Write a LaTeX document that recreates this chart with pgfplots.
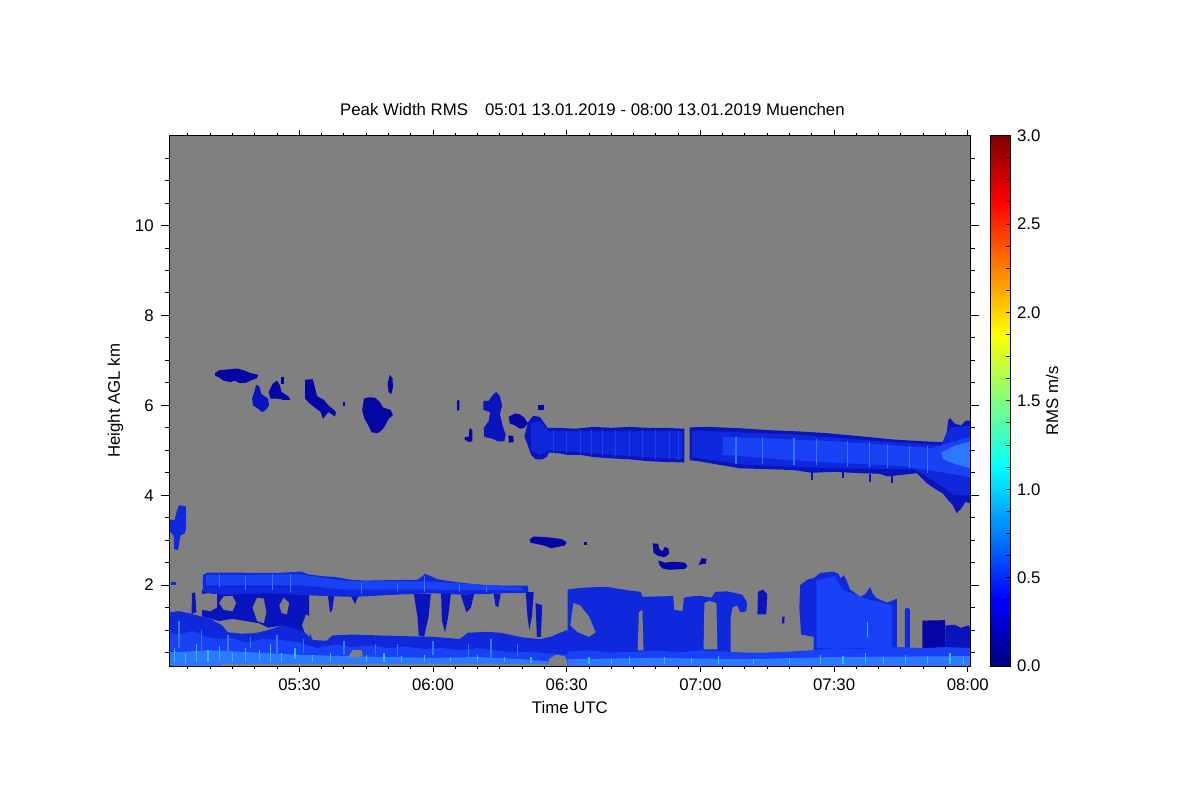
\documentclass[border=0pt]{standalone}
\usepackage{pgfplots}
\pgfplotsset{compat=1.18}
\usepackage{fontspec}
\setmainfont{Liberation Sans}
\definecolor{bg}{RGB}{128,128,128}
\definecolor{cNavy}{RGB}{5,5,165}
\definecolor{cDark}{RGB}{10,20,190}
\definecolor{cMid}{RGB}{15,40,220}
\definecolor{cBlue}{RGB}{25,65,245}
\definecolor{cLight}{RGB}{45,120,255}
\definecolor{cCyan}{RGB}{30,200,255}
\begin{document}
\begin{tikzpicture}[font=\fontsize{8.4}{10}\selectfont]
\path[fill=white,use as bounding box] (0,0) rectangle (600pt,400pt);
\begin{axis}[
  at={(84.85pt,67pt)}, anchor=south west, scale only axis,
  width=400.15pt, height=265.15pt,
  xmin=0.9, xmax=180.5, ymin=0.2, ymax=12,
  axis background/.style={fill=bg},
  axis on top,
  xtick=\empty,
  ytick={2,4,6,8,10}, yticklabels={2,4,6,8,10},
  minor ytick={0.5,1,1.5,2.5,3,3.5,4.5,5,5.5,6.5,7,7.5,8.5,9,9.5,10.5,11,11.5},
  tick align=outside, ytick pos=both, yticklabel pos=left,
  major tick length=4.5pt, minor tick length=2.25pt,
  axis line style={line width=0.5pt},
  every tick/.style={black,line width=0.5pt},
  /pgf/number format/assume math mode=true,
  ylabel={Height AGL km},
  every axis y label/.style={at={(axis description cs:-0.0621,0.5)}, rotate=90, anchor=base},
  title={Peak Width RMS\hspace{8.5pt}05:01 13.01.2019 - 08:00 13.01.2019 Muenchen},
  every axis title/.style={at={(axis description cs:0.5,1)}, anchor=base, yshift=10.35pt, xshift=11.3pt},
  colormap/jet, point meta min=0, point meta max=3,
  colorbar,
  colorbar style={
    at={(parent axis.north east)}, anchor=north west, xshift=1.47pt,
    width=10pt, scale only axis,
    ytick={0,0.5,...,3},
    minor ytick={0.125,0.25,0.375,0.625,0.75,0.875,1.125,1.25,1.375,1.625,1.75,1.875,2.125,2.25,2.375,2.625,2.75,2.875},
    ytick pos=right, yticklabel pos=right, tick align=inside,
    major tick length=2pt, minor tick length=2pt,
    yticklabel style={/pgf/number format/fixed,/pgf/number format/precision=1,/pgf/number format/fixed zerofill},
    /pgf/number format/assume math mode=true,
    ylabel={RMS m/s},
    every axis y label/.style={at={(axis description cs:3.4,0.5)}, rotate=90, anchor=base},
  },
]
% ---- lower-left region
\addplot[fill=cMid,draw=none] coordinates {(0.5,0.1) (0.5,1.39) (3,1.42) (5.8,1.36) (8,1.3) (10,1.25) (12.7,1.1) (14,0.95) (17,0.92) (20,0.93) (23,1.0) (26,1.1) (28,1.05) (30.4,1.0) (32.2,0.95) (33,0.78) (36,0.76) (37.5,0.88) (42,0.9) (48,0.88) (55,0.86) (60,0.85) (66,0.8) (67.8,0.94) (72,0.96) (75.2,0.94) (78,0.88) (80.4,0.83) (84,0.8) (86.4,0.85) (88,0.92) (90.2,1.0) (90.6,0.1)} -- cycle;
\addplot[fill=cBlue,draw=none] coordinates {(0.5,0.1) (0.5,0.95) (3,0.9) (6,0.98) (9,0.85) (12,0.8) (15,0.82) (18,0.72) (22,0.8) (26,0.78) (30,0.72) (34,0.6) (38,0.68) (42,0.62) (46,0.66) (50,0.6) (54,0.63) (58,0.58) (62,0.6) (66,0.55) (70,0.6) (74,0.55) (78,0.5) (82,0.52) (86,0.48) (90.6,0.45) (90.6,0.1)} -- cycle;
\addplot[fill=cLight,draw=none] coordinates {(0.5,0.2) (0.5,0.5) (10,0.55) (20,0.5) (30,0.45) (40,0.42) (50,0.4) (60,0.38) (70,0.4) (80,0.35) (86,0.3) (86,0.2)} -- cycle;
% connector and holes
\addplot[fill=cDark,draw=none] coordinates {(8.2,1.3) (8.2,1.9) (32.2,1.9) (32.2,0.9) (30,1.0) (26,1.1) (23,1.05) (21,1.15) (18,1.2) (15,1.25) (12,1.2)} -- cycle;
\addplot[fill=bg,draw=none] coordinates {(8.2,1.45) (8.2,1.8) (9.5,1.82) (11.5,1.8) (11.5,1.5) (10,1.42)} -- cycle;
\addplot[fill=bg,draw=none] coordinates {(12,1.6) (13,1.75) (15,1.76) (15.8,1.6) (15,1.42) (13,1.45)} -- cycle;
\addplot[fill=bg,draw=none] coordinates {(19.5,1.5) (20.5,1.72) (22,1.7) (22.6,1.4) (22,1.15) (20.5,1.2)} -- cycle;
\addplot[fill=bg,draw=none] coordinates {(25.5,1.55) (26.5,1.72) (27.7,1.6) (27.2,1.35) (26,1.38)} -- cycle;
\addplot[fill=bg,draw=none] coordinates {(30.6,1.1) (31.5,1.35) (32.3,1.3) (32.3,0.85) (31.2,0.95)} -- cycle;
% upper layer near 2 km
\addplot[fill=cMid,draw=none] coordinates {(8.3,2.05) (8.4,2.23) (9.5,2.28) (15,2.28) (20,2.27) (25,2.27) (30.4,2.3) (32,2.24) (35,2.2) (38,2.18) (41.6,2.12) (45,2.1) (50,2.11) (56.6,2.12) (58.2,2.25) (59.5,2.2) (61,2.13) (65.6,2.06) (71.4,2.0) (76,1.99) (81.3,1.99) (81.4,1.83) (76,1.82) (71,1.8) (65.6,1.79) (60,1.82) (55,1.8) (50,1.78) (45,1.75) (41.6,1.74) (35,1.76) (30,1.78) (23,1.82) (18,1.8) (13,1.78) (8.4,1.85)} -- cycle;
\addplot[fill=cBlue,draw=none] coordinates {(9,2.22) (30,2.24) (40,2.1) (60,2.08) (80,1.95) (80,1.88) (60,1.9) (40,1.9) (30,2.0) (9,2.0)} -- cycle;
\addplot[fill=cMid,draw=none] coordinates {(1.3,2.0) (1.3,2.07) (2.4,2.07) (2.4,2.0)} -- cycle;
% hanging streaks
\addplot[fill=cDark,draw=none] coordinates {(5.8,1.36) (5.9,1.82) (6.6,1.84) (6.9,1.4)} -- cycle;
\addplot[fill=cDark,draw=none] coordinates {(36.4,1.76) (37.8,1.76) (37.4,1.45) (36.9,1.39)} -- cycle;
\addplot[fill=cDark,draw=none] coordinates {(41.6,1.75) (43.2,1.75) (42.5,1.58)} -- cycle;
\addplot[fill=cDark,draw=none] coordinates {(55.7,1.8) (59.5,1.8) (59,1.3) (58,0.85) (56.8,0.88) (56.5,1.3)} -- cycle;
\addplot[fill=cDark,draw=none] coordinates {(61.8,1.82) (64,1.8) (63.4,1.3) (62.7,0.95) (62,1.2)} -- cycle;
\addplot[fill=cDark,draw=none] coordinates {(66.2,1.79) (69.2,1.8) (68.5,1.5) (67.5,1.39)} -- cycle;
\addplot[fill=cDark,draw=none] coordinates {(73.6,1.81) (75.2,1.81) (74.6,1.5) (74,1.55)} -- cycle;
\addplot[fill=cDark,draw=none] coordinates {(80.8,1.85) (82.6,1.84) (82.2,1.3) (81.6,1.0) (81.2,1.3)} -- cycle;
\addplot[fill=cDark,draw=none] coordinates {(83,1.6) (84.5,1.55) (84.2,0.85) (83.3,0.85)} -- cycle;
% gray bottom patches
\addplot[fill=bg,draw=none] coordinates {(41,0.41) (42,0.56) (44,0.55) (44.2,0.42) (42.5,0.38)} -- cycle;
\addplot[fill=bg,draw=none] coordinates {(12.7,0.1) (12.7,0.24) (86,0.24) (86,0.1)} -- cycle;
\addplot[fill=bg,draw=none] coordinates {(86,0.1) (86,0.35) (87.5,0.45) (89.5,0.42) (90.2,0.3) (90.2,0.1)} -- cycle;
% ---- 06:30 - 07:10 region
\addplot[fill=cMid,draw=none] coordinates {(90.2,0.3) (90.2,1.9) (91.5,1.92) (95,1.95) (99.2,1.96) (101.4,1.92) (104,1.88) (106.6,1.85) (107,1.74) (112,1.75) (113.9,1.76) (114.1,1.45) (116,1.42) (116.3,1.72) (118,1.75) (120,1.76) (122.5,1.72) (123.3,1.85) (126,1.86) (128,1.82) (129.5,1.78) (130.5,1.6) (130.3,1.42) (129,1.39) (128.2,1.55) (127.2,1.5) (126.8,1.3) (126.8,0.3)} -- cycle;
\addplot[fill=bg,draw=none] coordinates {(90.8,1.1) (91.5,1.6) (93,1.55) (95,1.3) (96.5,0.95) (95,0.85) (92.5,0.95)} -- cycle;
\addplot[fill=bg,draw=none] coordinates {(105.9,0.55) (106.2,1.4) (107,1.45) (107.2,0.55)} -- cycle;
\addplot[fill=bg,draw=none] coordinates {(120.7,0.57) (120.9,1.6) (122,1.65) (123.6,1.6) (123.8,0.57)} -- cycle;
\addplot[fill=cDark,draw=none] coordinates {(132.8,1.35) (132.9,1.85) (134,1.9) (135,1.8) (134.8,1.35)} -- cycle;
\addplot[fill=cDark,draw=none] coordinates {(138.3,1.15) (138.4,1.3) (138.9,1.3) (138.8,1.15)} -- cycle;
% ---- 07:20 - 07:45 region
\addplot[fill=cMid,draw=none] coordinates {(145.4,0.3) (145.4,0.85) (142.6,0.9) (142.2,1.5) (142.4,2.0) (144,2.12) (145.5,2.16) (146.9,2.27) (149.8,2.3) (151,2.25) (151.5,2.15) (152.2,2.22) (152.8,2.1) (153.6,1.9) (155.9,1.74) (157,1.8) (158.1,1.96) (158.7,1.8) (159.7,1.7) (161.9,1.61) (163,1.65) (164.1,1.7) (164.1,0.3)} -- cycle;
\addplot[fill=cBlue,draw=none] coordinates {(146,2.1) (150,2.2) (152,1.9) (157,1.7) (163,1.55) (163,0.6) (146,0.6)} -- cycle;
\addplot[fill=cMid,draw=none] coordinates {(165.9,0.3) (165.9,1.47) (166.5,1.5) (167,1.45) (167,0.3)} -- cycle;
\addplot[fill=cNavy,draw=none] coordinates {(169.8,0.3) (169.8,1.21) (174.9,1.22) (175.1,0.3)} -- cycle;
\addplot[fill=cDark,draw=none] coordinates {(175,0.3) (175,1.1) (177,1.12) (178.5,1.05) (180,1.1) (181,1.08) (181,0.3)} -- cycle;
% ground layer
\addplot[fill=cBlue,draw=none] coordinates {(90.2,0.1) (90.2,0.52) (95,0.55) (100,0.5) (106,0.52) (110,0.55) (115,0.5) (120,0.55) (125,0.52) (130,0.5) (135,0.5) (140,0.52) (145,0.55) (150,0.6) (155,0.58) (160,0.6) (165,0.62) (170,0.6) (175,0.62) (181,0.6) (181,0.1)} -- cycle;
\addplot[fill=cLight,draw=none] coordinates {(90.2,0.2) (90.2,0.35) (110,0.38) (130,0.35) (150,0.4) (181,0.42) (181,0.2)} -- cycle;
% speckles
\addplot[cLight,line width=0.6pt,unbounded coords=jump] coordinates {(3,0.6) (3,1.2) (3,nan) (8,0.5) (8,1.0) (8,nan) (14,0.5) (14,0.9) (14,nan) (19,0.6) (19,0.85) (19,nan) (25,0.5) (25,0.9) (25,nan) (31,0.5) (31,0.8) (31,nan) (40,0.45) (40,0.75) (40,nan) (47,0.45) (47,0.7) (47,nan) (52,0.4) (52,0.7) (52,nan) (60,0.45) (60,0.75) (60,nan) (68,0.4) (68,0.7) (68,nan) (73,0.4) (73,0.8) (73,nan) (79,0.4) (79,0.7) (79,nan) (12,1.95) (12,2.25) (12,nan) (18,1.9) (18,2.2) (18,nan) (24,1.9) (24,2.25) (24,nan) (28,1.85) (28,2.25) (28,nan) (44,1.8) (44,2.05) (44,nan) (52,1.85) (52,2.05) (52,nan) (58,1.85) (58,2.2) (58,nan) (66,1.85) (66,2.02) (66,nan) (72,1.85) (72,1.97)};
\addplot[cCyan,line width=0.6pt,unbounded coords=jump] coordinates {(2,0.3) (2,0.6) (2,nan) (4.5,0.25) (4.5,0.5) (4.5,nan) (7,0.3) (7,0.7) (7,nan) (9.5,0.3) (9.5,0.55) (9.5,nan) (12,0.35) (12,0.65) (12,nan) (15,0.3) (15,0.5) (15,nan) (18,0.3) (18,0.6) (18,nan) (21,0.35) (21,0.55) (21,nan) (23.5,0.3) (23.5,0.7) (23.5,nan) (26,0.3) (26,0.5) (26,nan) (29,0.35) (29,0.6) (29,nan) (33,0.3) (33,0.45) (33,nan) (37,0.3) (37,0.5) (37,nan) (45,0.3) (45,0.45) (45,nan) (49,0.3) (49,0.5) (49,nan) (53,0.28) (53,0.42) (53,nan) (58,0.3) (58,0.45) (58,nan) (64,0.28) (64,0.4) (64,nan) (70,0.28) (70,0.45) (70,nan) (76,0.28) (76,0.4) (76,nan) (82,0.27) (82,0.4) (82,nan) (95,0.25) (95,0.4) (95,nan) (100,0.25) (100,0.35) (100,nan) (104,0.25) (104,0.42) (104,nan) (112,0.25) (112,0.4) (112,nan) (118,0.25) (118,0.38) (118,nan) (124,0.25) (124,0.42) (124,nan) (132,0.25) (132,0.35) (132,nan) (140,0.25) (140,0.38) (140,nan) (147,0.25) (147,0.45) (147,nan) (152,0.25) (152,0.42) (152,nan) (157,0.25) (157,0.48) (157,nan) (161,0.25) (161,0.4) (161,nan) (166,0.25) (166,0.45) (166,nan) (171,0.25) (171,0.42) (171,nan) (176,0.25) (176,0.48) (176,nan) (179,0.25) (179,0.4) (179,nan) (157.5,0.85) (157.5,1.17)};
% ---- low isolated patches 2.3 - 3.8 km
\addplot[fill=cMid,draw=none] coordinates {(3.0,3.78) (4.5,3.75) (4.6,3.3) (4.3,3.15) (3.3,3.1) (2.8,2.78) (1.9,2.8) (1.8,3.1) (0.9,3.2) (0.9,3.45) (2.0,3.45) (2.5,3.65)} -- cycle;
\addplot[fill=cNavy,draw=none] coordinates {(81.7,3.02) (82.5,3.08) (85,3.07) (87,3.05) (89,3.02) (90,2.95) (89.5,2.88) (88,2.85) (86.5,2.82) (85,2.88) (83,2.92) (81.8,2.95)} -- cycle;
\addplot[fill=cNavy,draw=none] coordinates {(93.8,2.89) (93.8,2.96) (94.5,2.96) (94.5,2.89)} -- cycle;
\addplot[fill=cNavy,draw=none] coordinates {(109.3,2.93) (110.5,2.92) (110.8,2.8) (111.5,2.75) (112.0,2.85) (112.8,2.82) (113.0,2.7) (112,2.62) (110.5,2.65) (109.5,2.72)} -- cycle;
\addplot[fill=cNavy,draw=none] coordinates {(110.6,2.55) (112,2.5) (114,2.52) (116.5,2.5) (117.1,2.42) (116.5,2.36) (113,2.34) (111.5,2.37) (110.8,2.45)} -- cycle;
\addplot[fill=cNavy,draw=none] coordinates {(119.6,2.45) (120.3,2.6) (121.4,2.58) (121.2,2.48)} -- cycle;
% ---- upper isolated clouds 5.2 - 6.8 km
\addplot[fill=cNavy,draw=none] coordinates {(11.1,6.72) (12,6.78) (14,6.8) (16,6.82) (17.5,6.78) (19,6.72) (20.7,6.68) (20.5,6.6) (19,6.55) (18,6.5) (16.5,6.5) (15.5,6.55) (14.5,6.52) (13,6.55) (12,6.62) (11.1,6.66)} -- cycle;
\addplot[fill=cDark,draw=none] coordinates {(20.3,6.46) (21.0,6.42) (21.5,6.25) (23.0,6.15) (23.2,6.0) (22.5,5.9) (21.6,5.85) (20.8,5.92) (19.6,6.0) (19.4,6.15) (19.9,6.3)} -- cycle;
\addplot[fill=cNavy,draw=none] coordinates {(23.1,6.3) (24,6.48) (25,6.55) (25.6,6.45) (26,6.3) (27.5,6.2) (28,6.12) (26.5,6.12) (25,6.15) (23.5,6.15)} -- cycle;
\addplot[fill=cNavy,draw=none] coordinates {(25.9,6.48) (25.9,6.62) (26.6,6.62) (26.6,6.48)} -- cycle;
\addplot[fill=cNavy,draw=none] coordinates {(31.3,6.57) (33.0,6.58) (33.5,6.4) (34,6.2) (35.5,6.12) (36.5,6.0) (37.5,5.92) (38.2,5.85) (38.0,5.75) (36.5,5.85) (35.3,5.7) (34.8,5.85) (33.5,5.95) (32.2,6.05) (31.3,6.15)} -- cycle;
\addplot[fill=cNavy,draw=none] coordinates {(39.7,5.98) (40.3,5.98) (40.3,6.08) (39.7,6.08)} -- cycle;
\addplot[fill=cNavy,draw=none] coordinates {(44.5,6.15) (45.5,6.18) (47.0,6.17) (48.0,6.08) (48.8,5.95) (50.5,5.9) (51.0,5.78) (50.0,5.7) (49.3,5.55) (48.5,5.45) (47.6,5.38) (46.2,5.40) (45.5,5.55) (44.6,5.7) (44.1,5.9)} -- cycle;
\addplot[fill=cNavy,draw=none] coordinates {(50.3,6.68) (50.9,6.6) (51.0,6.4) (50.6,6.25) (50.0,6.3) (49.8,6.5)} -- cycle;
\addplot[fill=cNavy,draw=none] coordinates {(65.4,6.1) (65.9,6.12) (65.9,5.9) (65.4,5.88)} -- cycle;
\addplot[fill=cNavy,draw=none] coordinates {(68.2,5.5) (68.8,5.45) (68.8,5.2) (68.0,5.18) (67.0,5.25) (67.2,5.3) (68.0,5.3)} -- cycle;
\addplot[fill=cDark,draw=none] coordinates {(73.3,6.22) (74.2,6.3) (75.0,6.2) (75.5,6.0) (75.0,5.8) (75.6,5.55) (76.3,5.35) (76.0,5.2) (74.5,5.2) (73.5,5.25) (71.5,5.3) (71.4,5.5) (72.5,5.65) (72.8,5.85) (71.3,5.9) (71.3,6.1) (72.5,6.1)} -- cycle;
\addplot[fill=cNavy,draw=none] coordinates {(76.9,5.33) (78.0,5.32) (78.1,5.18) (77.0,5.17)} -- cycle;
\addplot[fill=cNavy,draw=none] coordinates {(77.0,5.75) (78.5,5.82) (79.5,5.8) (80.5,5.72) (81.3,5.6) (80.5,5.5) (79.5,5.48) (78.5,5.55) (77.2,5.6)} -- cycle;
\addplot[fill=cNavy,draw=none] coordinates {(83.5,5.9) (84.8,5.9) (84.8,6.0) (83.5,6.0)} -- cycle;
% ---- main band 4 - 5.7 km
\addplot[fill=cDark,draw=none] coordinates {(80.5,5.3) (81.3,5.62) (82.5,5.77) (84,5.74) (85,5.6) (85.7,5.5) (88,5.5) (92,5.48) (96,5.52) (100,5.5) (104,5.52) (108,5.5) (112,5.5) (116.4,5.48) (116.4,4.73) (112,4.74) (108,4.76) (104,4.8) (100,4.82) (96,4.85) (93,4.9) (90,4.9) (88.6,4.93) (86,4.95) (85.5,4.85) (84.5,4.8) (83,4.8) (82,4.9) (81.3,5.1)} -- cycle;
\addplot[fill=cDark,draw=none] coordinates {(117.6,5.51) (122,5.52) (128.9,5.49) (135,5.45) (142,5.42) (148.5,5.38) (155,5.32) (163.3,5.24) (170,5.2) (174.4,5.18) (175.3,5.4) (175.6,5.66) (176,5.72) (177,5.6) (178.5,5.55) (179.5,5.66) (180.6,5.66) (180.6,3.82) (179.5,3.85) (178.5,3.7) (177.5,3.6) (176.5,3.8) (175.5,3.9) (174.4,4.04) (172.5,4.15) (170.8,4.27) (169.5,4.4) (168.6,4.49) (165,4.45) (162,4.42) (160,4.48) (155.9,4.49) (150,4.52) (145,4.5) (140.9,4.56) (135,4.58) (128.9,4.6) (124,4.68) (120,4.75) (117.6,4.78)} -- cycle;
\addplot[fill=cMid,draw=none] coordinates {(82,5.6) (84,5.65) (86,5.42) (116,5.42) (116,4.8) (100,4.9) (90,4.98) (86,5.0) (84,4.9) (82,5.0)} -- cycle;
\addplot[fill=cMid,draw=none] coordinates {(118,5.44) (140,5.36) (163,5.18) (174,5.12) (176,5.5) (180.6,5.55) (180.6,4.0) (177,4.0) (172,4.35) (168,4.58) (150,4.6) (130,4.68) (118,4.85)} -- cycle;
\addplot[fill=cBlue,draw=none] coordinates {(125,5.3) (150,5.2) (172,5.05) (180.6,5.3) (180.6,4.4) (175,4.5) (165,4.65) (145,4.75) (125,4.9)} -- cycle;
\addplot[fill=cLight,draw=none] coordinates {(174,4.95) (177,5.1) (180.6,5.2) (180.6,4.6) (177,4.7) (174.5,4.8)} -- cycle;
\addplot[cDark,line width=0.8pt,unbounded coords=jump] coordinates {(145,4.52) (145,4.35) (145,nan) (152,4.52) (152,4.38) (152,nan) (158,4.48) (158,4.3) (158,nan) (163,4.44) (163,4.27)};
\addplot[cBlue,line width=0.6pt,unbounded coords=jump] coordinates {(87,4.95) (87,5.45) (87,nan) (90,4.95) (90,5.44) (90,nan) (93,4.92) (93,5.45) (93,nan) (95.5,4.9) (95.5,5.46) (95.5,nan) (98,4.88) (98,5.45) (98,nan) (101,4.86) (101,5.45) (101,nan) (104,4.84) (104,5.46) (104,nan) (107,4.82) (107,5.45) (107,nan) (110,4.8) (110,5.45) (110,nan) (113,4.8) (113,5.44) (113,nan) (115,4.78) (115,5.44)};
\addplot[cLight,line width=0.6pt,unbounded coords=jump] coordinates {(128,4.7) (128,5.3) (128,nan) (134,4.7) (134,5.3) (134,nan) (141,4.68) (141,5.28) (141,nan) (146,4.68) (146,5.25) (146,nan) (153,4.65) (153,5.2) (153,nan) (158,4.62) (158,5.18) (158,nan) (162,4.6) (162,5.15) (162,nan) (167,4.6) (167,5.1) (167,nan) (171,4.5) (171,5.1)};
\end{axis}
\begin{axis}[
  at={(84.85pt,67pt)}, anchor=south west, scale only axis,
  width=400.15pt, height=265.15pt,
  xmin=0.9, xmax=180.5, ymin=0.2, ymax=12,
  ytick=\empty,
  xtick={30,60,90,120,150,180},
  xticklabels={05:30,06:00,06:30,07:00,07:30,08:00},
  minor xtick={5,10,...,180},
  tick align=outside, xtick pos=both, xticklabel pos=lower,
  major tick length=3pt, minor tick length=1.5pt,
  axis line style={line width=0.5pt},
  every tick/.style={black,line width=0.5pt},
  xlabel={Time UTC},
  every axis x label/.style={at={(axis description cs:0.5,0)}, anchor=base, yshift=-23.65pt},
]
\addplot[draw=none] coordinates {(10,1)};
\end{axis}
\end{tikzpicture}
\end{document}
